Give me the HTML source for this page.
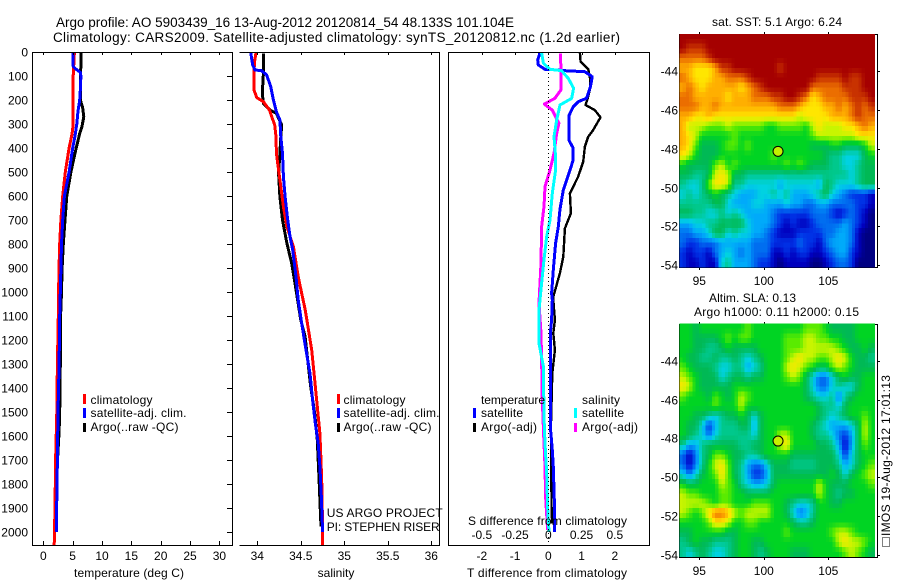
<!DOCTYPE html>
<html>
<head>
<meta charset="utf-8">
<title>Argo profile</title>
<style>
html,body{margin:0;padding:0;background:#fff;}
svg{display:block;}
text{font-family:"Liberation Sans",sans-serif;font-size:12px;fill:#000;}
.crisp{shape-rendering:crispEdges;}
.t13{font-size:13.5px;}
</style>
</head>
<body>
<svg id="fig" xmlns="http://www.w3.org/2000/svg" width="900" height="580" viewBox="0 0 900 580">
  <rect x="0" y="0" width="900" height="580" fill="#fff"/>
  <text class="t13" x="56" y="27" textLength="458">Argo profile: AO 5903439_16 13-Aug-2012 20120814_54 48.133S 101.104E</text>
  <text class="t13" x="53" y="42" textLength="567">Climatology: CARS2009. Satellite-adjusted climatology: synTS_20120812.nc (1.2d earlier)</text>

  <g id="marks"></g>
  <g id="axes" class="crisp"></g>
  <g id="labels"></g>
  <g id="maps"></g>

  <text x="74" y="577" textLength="110">temperature (deg C)</text>
  <text x="336" y="577" text-anchor="middle">salinity</text>
  <text x="467" y="577" textLength="160">T difference from climatology</text>
  <text x="468" y="525" textLength="159">S difference from climatology</text>

  <g>
    <rect class="crisp" x="83" y="394" width="3" height="10" fill="#f00"/>
    <text x="90.5" y="404" textLength="62">climatology</text>
    <rect class="crisp" x="83" y="408" width="3" height="10" fill="#00f"/>
    <text x="90.5" y="417" textLength="96">satellite-adj. clim.</text>
    <rect class="crisp" x="83" y="423" width="3" height="9" fill="#000"/>
    <text x="90.5" y="431" textLength="88">Argo(..raw -QC)</text>
  </g>
  <g>
    <rect class="crisp" x="337" y="394" width="3" height="10" fill="#f00"/>
    <text x="343.5" y="404" textLength="62">climatology</text>
    <rect class="crisp" x="337" y="408" width="3" height="10" fill="#00f"/>
    <text x="343.5" y="417" textLength="96">satellite-adj. clim.</text>
    <rect class="crisp" x="337" y="423" width="3" height="9" fill="#000"/>
    <text x="343.5" y="431" textLength="88">Argo(..raw -QC)</text>
    <text x="326.7" y="517" textLength="116">US ARGO PROJECT</text>
    <text x="326.7" y="531" textLength="113">PI: STEPHEN RISER</text>
  </g>
  <g>
    <text x="481" y="404" textLength="64">temperature</text>
    <text x="582" y="404" textLength="38">salinity</text>
    <rect class="crisp" x="473" y="408" width="3" height="10" fill="#00f"/>
    <text x="481" y="417" textLength="42">satellite</text>
    <rect class="crisp" x="473" y="423" width="3" height="9" fill="#000"/>
    <text x="481" y="431" textLength="56">Argo(-adj)</text>
    <rect class="crisp" x="574" y="408" width="3" height="10" fill="#0ff"/>
    <text x="582" y="417" textLength="42">satellite</text>
    <rect class="crisp" x="574" y="423" width="3" height="9" fill="#f0f"/>
    <text x="582" y="431" textLength="56">Argo(-adj)</text>
  </g>

  <text x="712" y="26" textLength="130">sat. SST: 5.1 Argo: 6.24</text>
  <text x="709" y="302" textLength="87">Altim. SLA: 0.13</text>
  <text x="694" y="316" textLength="165">Argo h1000: 0.11 h2000: 0.15</text>
  <rect x="882.5" y="537.5" width="7" height="9" fill="none" stroke="#000" stroke-dasharray="1 1" class="crisp"/>
  <text transform="translate(890,536) rotate(-90)" x="0" y="0" textLength="161">IMOS 19-Aug-2012 17:01:13</text>
</svg>
<script>
// ---------- depth ticks ----------
var depthTicks = [0,100,200,300,400,500,600,700,800,900,1000,1100,1200,1300,1400,1500,1600,1700,1800,1900,2000];
// ---------- temperature panel ----------
var tempTicks = [0,5,10,15,20,25,30];
var tempClimDepth = [0,100,220,300,340,400,500,600,700,800,900,1000,1100,1300,1500,1700,1900,2054];
var tempClim = [5.3,5.1,5.1,5.1,4.9,4.4,3.75,3.3,3.0,2.8,2.67,2.6,2.55,2.4,2.3,2.1,2.0,1.85];
var tempSatDepth = [0,60,70,85,100,160,200,250,300,350,400,500,600,700,800,900,1000,1100,1300,1500,1700,1850,2000];
var tempSat = [5.1,5.1,5.5,6.3,6.4,6.3,6.2,5.9,5.7,5.4,5.0,4.4,3.6,3.3,3.1,3.0,2.9,2.8,2.7,2.5,2.4,2.3,2.25];
var tempArgoDepth = [0,60,100,200,230,270,310,340,400,500,600,700,800,900,1000,1100,1300,1500,1580,1800,1900,2000];
var tempArgo = [6.4,6.4,6.3,6.3,6.7,6.9,6.6,6.2,5.6,4.7,4.0,3.7,3.4,3.2,3.1,2.95,2.9,2.8,2.7,2.2,2.1,2.1];
// ---------- salinity panel ----------
var salTicks = [34,34.5,35,35.5,36];
var salTickLabels = ["34","34.5","35","35.5","36"];
var salClimDepth = [3,47,158,190,207,242,269,304,353,422,464,533,589,644,728,811,936,1006,1072,1117,1242,1367,1478,1589,1728,1839,2054];
var salClim = [33.985,33.966,33.962,33.993,34.07,34.14,34.165,34.2,34.215,34.22,34.235,34.26,34.28,34.3,34.34,34.415,34.47,34.51,34.55,34.57,34.625,34.66,34.69,34.72,34.735,34.745,34.75];
var salSatDepth = [3,54,75,78,96,144,200,249,283,353,422,519,603,686,769,825,936,1033,1131,1242,1339,1450,1547,1631,1728,1839,1999];
var salSat = [33.924,33.947,33.974,34.05,34.108,34.154,34.185,34.22,34.26,34.27,34.29,34.3,34.32,34.345,34.376,34.407,34.445,34.47,34.51,34.56,34.606,34.636,34.667,34.7,34.72,34.735,34.75];
var salArgoDepth = [6,89,172,214,242,256,304,353,422,506,603,700,797,881,964,1117,1186,1269,1394,1506,1617,1783,1867,1978];
var salArgo = [34.07,34.07,34.058,34.07,34.146,34.22,34.28,34.27,34.26,34.245,34.26,34.29,34.34,34.395,34.433,34.5,34.55,34.575,34.614,34.66,34.69,34.71,34.72,34.732];
// ---------- difference panel ----------
var diffTTicks = [-2,-1,0,1,2];
var diffSTicks = [-0.5,-0.25,0,0.25,0.5];
var diffSTickLabels = ["-0.5","-0.25","0","0.25","0.5"];
var dtSatDepth = [3,33,54,72,75,78,82,103,144,193,207,228,263,339,367,401,450,506,575,658,728,797,908,1006,1033,1117,1172,1561,1658,1728,1867,1999];
var dtSat = [-0.25,-0.32,-0.3,-0.1,0.3,0.5,1.1,1.32,1.27,1.15,0.9,0.75,0.63,0.63,0.62,0.75,0.75,0.62,0.45,0.35,0.3,0.22,0.15,0.1,0.12,0.1,0.06,0.06,0.12,0.15,0.18,0.18];
var dtArgoDepth = [3,40,72,103,144,186,221,242,272,325,353,394,457,519,589,672,735,853,922,1019,1033,1117,1172,1242,1339,1450,1547,1922,1964];
var dtArgo = [0.95,0.97,1.2,1.25,1.27,1.2,1.12,1.4,1.57,1.35,1.2,1.1,1.05,0.9,0.65,0.68,0.5,0.45,0.35,0.15,0.15,0.2,0.15,0.2,0.12,0.1,0.08,0.1,0.12];
var dsSatDepth = [3,47,72,78,110,151,193,221,283,353,436,492,589,700,769,853,964,1075,1214,1311,1519,1631,1756,1894,1999];
var dsSat = [-0.05,-0.037,0.013,0.1,0.15,0.19,0.176,0.088,0.063,0.043,0.055,0.055,0.03,0.013,-0.012,-0.03,-0.05,-0.07,-0.07,-0.037,-0.032,-0.025,-0.012,-0.005,0.005];
var dsArgoDepth = [6,158,193,217,242,297,339,422,492,561,644,728,881,1019,1047,1172,1283,1450,1589,1728,1853,1992];
var dsArgo = [0.093,0.095,0.05,-0.03,0.03,0.08,0.063,0.043,0.013,-0.025,-0.032,-0.05,-0.055,-0.068,-0.07,-0.055,-0.05,-0.045,-0.035,-0.025,-0.02,-0.005];
// ---------- maps ----------
var lonTicks = [95,100,105];
var latTicks = [44,46,48,50,52,54];
var floatLon = 101.104;
var floatLat = 48.133;
var sstGrid = [
[15,15,15,15,15,15,15,15,15,15,15,15,15,15,15,15,15,15,15,15,15,15,15,15,15,15,15,15,15,15],
[15,14,14,14,15,15,15,15,15,15,15,15,15,15,15,15,15,15,15,15,15,15,15,15,15,15,15,15,15,15],
[13,13,13,13,14,15,15,15,15,15,15,15,15,15,15,15,15,15,15,15,15,15,15,15,15,15,15,15,15,15],
[12,12,11,11,11,12,14,14,15,15,15,15,15,15,15,14,15,15,15,15,15,15,15,15,15,15,15,15,15,15],
[13,12,11,11,11,12,12,13,13,13,14,15,15,15,15,15,15,15,15,15,15,14,14,14,14,15,14,14,15,15],
[12,13,12,11,12,12,12,12,12,11,12,13,14,15,15,15,15,15,15,15,13,13,13,13,13,14,14,14,15,15],
[13,13,12,12,12,12,12,11,12,12,12,13,13,13,14,14,15,15,14,13,11,12,13,13,13,13,14,14,14,15],
[13,13,13,12,12,13,12,12,12,12,12,12,12,12,12,13,13,13,12,11,11,11,12,12,13,12,13,14,13,14],
[12,12,11,11,12,11,11,11,11,11,11,11,11,11,11,11,11,11,10,11,11,11,11,12,12,12,13,14,13,13],
[12,10,10,10,9,9,9,10,9,9,9,9,9,8,8,9,9,9,9,8,10,11,10,10,10,11,11,12,13,12],
[12,11,10,8,8,8,8,8,9,8,8,8,8,8,8,8,8,8,8,8,9,10,10,10,10,10,10,11,11,11],
[12,11,9,7,7,7,8,9,9,8,9,8,8,8,8,8,8,8,8,8,7,7,7,8,8,7,7,7,8,10],
[11,10,8,7,7,7,8,8,8,8,8,8,8,8,9,8,8,8,8,8,8,8,7,6,6,5,5,5,7,8],
[8,7,7,7,7,9,10,8,9,8,8,8,8,8,8,8,9,8,9,8,7,7,7,6,6,5,5,6,7,7],
[7,7,6,6,7,10,11,10,7,7,6,6,6,6,6,6,6,6,6,6,6,6,6,6,6,6,5,6,7,7],
[6,5,5,6,9,11,11,10,6,6,5,5,5,5,5,4,5,5,5,5,5,4,7,6,5,5,5,6,7,7],
[5,6,5,6,7,8,7,6,5,4,4,4,5,5,6,5,6,4,4,4,5,6,7,5,4,3,2,2,2,1],
[6,6,6,6,6,7,7,5,4,4,4,5,5,4,4,4,5,4,4,3,3,4,4,3,3,3,3,2,2,1],
[7,7,6,6,5,5,6,5,6,5,4,4,4,4,3,2,2,2,2,2,3,3,3,2,1,2,3,2,1,0],
[4,4,5,5,6,6,7,7,7,7,5,4,4,4,3,2,1,2,1,1,2,3,3,3,3,4,3,2,1,0],
[3,3,4,4,5,7,7,5,6,5,5,4,4,3,2,1,1,1,2,2,2,2,3,3,4,4,3,1,0,0],
[3,2,2,3,3,3,4,4,4,4,4,3,3,3,2,2,2,2,3,2,2,1,3,4,4,4,3,1,0,0],
[2,1,2,2,1,3,4,5,4,3,4,3,3,3,1,1,2,1,2,2,1,1,2,3,4,4,2,1,0,0],
[2,1,1,2,1,1,5,6,4,4,4,3,2,2,1,0,1,1,1,1,0,0,1,2,3,3,2,0,0,0]
];
var slaGrid = [
[8,8,7,8,8,8,8,8,8,8,9,8,8,8,8,8,8,8,8,9,9,9,8,7,7,7,7,8,8,8],
[8,8,7,7,7,7,8,9,8,9,9,8,8,8,8,8,9,9,9,10,10,9,9,8,8,7,7,8,8,8],
[8,8,7,7,6,6,7,8,7,7,7,7,8,8,8,8,9,9,9,10,10,10,10,10,9,8,7,7,8,7],
[8,7,7,6,6,7,6,6,7,6,5,6,7,8,8,8,9,10,11,10,10,9,9,10,11,10,8,7,7,6],
[9,8,7,7,7,6,5,5,6,6,4,5,6,8,8,8,10,11,10,9,8,7,7,9,10,9,8,7,7,7],
[10,9,8,7,7,7,5,6,7,7,6,7,7,8,8,8,9,10,9,7,5,3,3,5,7,8,7,7,8,8],
[11,10,8,7,7,7,7,7,8,8,8,8,8,8,8,8,8,8,8,7,5,3,3,5,6,5,5,7,8,8],
[9,8,8,8,7,9,8,7,8,10,9,8,8,8,8,8,8,8,8,7,6,5,5,6,3,6,7,8,8,8],
[8,8,8,8,8,9,8,8,8,10,8,8,8,8,8,8,8,8,8,8,8,7,6,6,5,7,8,8,8,8],
[8,8,7,7,6,5,6,7,7,8,7,5,7,8,8,8,8,8,8,8,8,7,6,5,6,7,8,8,9,8],
[8,7,7,5,2,4,6,6,6,7,7,4,7,8,8,8,8,8,8,8,7,6,5,4,4,4,5,7,10,8],
[8,7,6,5,3,5,6,6,6,6,6,5,7,8,8,10,10,8,8,8,7,6,6,5,3,2,4,7,10,8],
[6,4,4,6,7,7,7,7,7,6,6,7,7,8,8,10,11,8,8,8,8,7,7,6,4,1,4,7,9,8],
[3,1,3,6,7,9,9,8,7,7,6,6,7,8,8,8,8,7,7,7,7,7,7,7,5,2,5,7,8,8],
[3,1,3,6,8,10,11,9,7,6,4,3,3,5,7,7,7,6,6,6,6,7,7,7,6,4,5,7,8,9],
[5,3,5,7,8,9,11,9,7,6,4,2,2,4,7,7,7,7,7,7,7,7,7,8,7,5,7,8,9,10],
[8,7,7,8,8,8,10,9,8,6,5,4,4,5,7,8,8,8,8,8,8,10,8,7,7,7,8,8,8,9],
[10,9,9,8,8,8,9,9,8,8,7,7,7,7,8,8,8,8,8,8,8,10,8,7,6,7,7,8,8,8],
[10,10,10,10,9,8,9,9,8,8,8,9,9,9,8,8,7,6,5,5,6,8,8,7,7,8,8,8,8,8],
[10,9,8,9,11,13,13,12,10,9,10,10,10,10,8,8,7,5,3,4,6,8,8,8,8,8,8,8,8,8],
[8,8,8,8,9,11,11,10,8,8,9,9,8,8,8,8,8,7,6,6,7,8,8,8,8,8,8,8,8,8],
[7,7,8,8,8,8,8,7,7,8,8,8,8,8,8,8,9,8,8,8,8,8,8,9,10,10,9,8,8,8],
[6,7,8,7,7,6,6,6,7,8,8,7,7,8,8,8,8,8,8,8,8,8,8,8,10,11,10,10,9,8],
[6,5,6,7,6,5,5,6,7,8,8,7,6,7,8,8,8,7,7,7,8,8,8,8,8,9,10,9,8,7]
];

var NS = "http://www.w3.org/2000/svg";
var colorStops = [[0,0,130],[0,0,190],[0,50,230],[0,110,240],[0,170,250],[0,210,225],[0,200,140],[0,185,85],[0,212,35],[90,235,0],[200,245,0],[255,230,0],[255,175,0],[235,110,0],[200,50,0],[165,0,0]];
function colorFor(v){
  var c = Math.max(0, Math.min(colorStops.length - 1.001, v));
  var i = Math.floor(c), f = c - i, a = colorStops[i], b = colorStops[i + 1];
  return "rgb(" + Math.round(a[0] + (b[0] - a[0]) * f) + "," + Math.round(a[1] + (b[1] - a[1]) * f) + "," + Math.round(a[2] + (b[2] - a[2]) * f) + ")";
}
function sampleGrid(grid, u, v){
  var rows = grid.length, cols = grid[0].length;
  var x = Math.max(0, Math.min(cols - 1, u)), y = Math.max(0, Math.min(rows - 1, v));
  var i = Math.min(cols - 2, Math.floor(x)), j = Math.min(rows - 2, Math.floor(y));
  var fx = x - i, fy = y - j;
  return grid[j][i] * (1 - fx) * (1 - fy) + grid[j][i + 1] * fx * (1 - fy) + grid[j + 1][i] * (1 - fx) * fy + grid[j + 1][i + 1] * fx * fy;
}
function mk(tag, parent, attrs){
  var el = document.createElementNS(NS, tag);
  for (var k in attrs) el.setAttribute(k, attrs[k]);
  parent.appendChild(el);
  return el;
}
var depthY = function(d){ return 52 + 0.24 * d; };
var tempX = function(t){ return 43.3 + 5.87 * t; };
var salX = function(s){ return 257.3 + 87 * (s - 34); };
var dtX = function(t){ return 548.3 + 33.25 * t; };
var dsX = function(s){ return 548.3 + 133 * s; };

var marks = document.getElementById("marks");
var axes = document.getElementById("axes");
var labels = document.getElementById("labels");

function hLine(x1, x2, y){
  var l = mk("line", axes, {x1:x1, x2:x2, y1:y, y2:y, stroke:"#000", "stroke-width":1});
  
  
}
function vLine(x, y1, y2){
  var l = mk("line", axes, {x1:x, x2:x, y1:y1, y2:y2, stroke:"#000", "stroke-width":1});
  
  
}
function tickLabel(txt, x, y, anchor){
  var t = mk("text", labels, {x:x, y:y, "text-anchor":anchor});
  t.textContent = txt;
  
  
}
function curve(depths, vals, xf, color, width, name){
  var pts = depths.map(function(d, i){ return xf(vals[i]).toFixed(1) + "," + depthY(d).toFixed(1); }).join(" ");
  var p = mk("polyline", marks, {points:pts, fill:"none", stroke:color, "stroke-width":width, "stroke-linejoin":"round", "shape-rendering":"crispEdges"});
  
  
}

// series
curve(tempArgoDepth, tempArgo, tempX, "#000", 3, "temperature-argo-line");
curve(tempClimDepth, tempClim, tempX, "#f00", 3, "temperature-climatology-line");
curve(tempSatDepth, tempSat, tempX, "#00f", 3, "temperature-satellite-line");
curve(salArgoDepth, salArgo, salX, "#000", 3, "salinity-argo-line");
curve(salClimDepth, salClim, salX, "#f00", 3, "salinity-climatology-line");
curve(salSatDepth, salSat, salX, "#00f", 3, "salinity-satellite-line");
curve(dtArgoDepth, dtArgo, dtX, "#000", 2.4, "t-difference-argo-line");
curve(dtSatDepth, dtSat, dtX, "#00f", 3, "t-difference-satellite-line");
curve(dsArgoDepth, dsArgo, dsX, "#f0f", 3, "s-difference-argo-line");
curve(dsSatDepth, dsSat, dsX, "#0ff", 3, "s-difference-satellite-line");

// frames
hLine(32.5, 232.5, 52.5); hLine(32.5, 232.5, 545.5); vLine(32.5, 52, 546); vLine(232.5, 52, 546);
hLine(239.5, 439.5, 52.5); hLine(239.5, 439.5, 545.5); vLine(439.5, 52, 546);
hLine(448.5, 649.5, 52.5); hLine(448.5, 649.5, 545.5); vLine(448.5, 52, 546); vLine(649.5, 52, 546);

// zero line
var zero = mk("line", marks, {x1:dtX(0), x2:dtX(0), y1:53, y2:545, stroke:"#000", "stroke-width":1, "stroke-dasharray":"1 3", "shape-rendering":"crispEdges"});



// depth ticks
depthTicks.forEach(function(d){
  var y = Math.round(depthY(d)) + 0.5;
  hLine(227, 232, y);
  tickLabel(String(d), 28, y + 4, "end");
});
// temperature x ticks
tempTicks.forEach(function(t){
  var x = Math.round(tempX(t)) + 0.5;
  vLine(x, 52, 55); vLine(x, 541, 545);
  tickLabel(String(t), tempX(t), 560, "middle");
});
// salinity x ticks
salTicks.forEach(function(s, i){
  var x = Math.round(salX(s)) + 0.5;
  vLine(x, 52, 55); vLine(x, 541, 545);
  tickLabel(salTickLabels[i], salX(s), 560, "middle");
});
// difference ticks
diffTTicks.forEach(function(t){
  var x = Math.round(dtX(t)) + 0.5;
  vLine(x, 52, 55);
  tickLabel(String(t), dtX(t), 560, "middle");
});
diffSTicks.forEach(function(s, i){
  tickLabel(diffSTickLabels[i], dsX(s), 539, "middle");
});

// maps: each grid value is shaded on quarter-degree cells like the reference
var cellsPerValue = 2;
function drawMap(grid, top, name, y44, dotFill){
  var maps = document.getElementById("maps");
  var g = mk("g", maps, {"shape-rendering":"crispEdges"});
  
  
  var lonX = function(lon){ return 699.3 + 12.9 * (lon - 95); };
  var latY = function(lat){ return y44 + 19.37 * (lat - 44); };
  var lon0 = 93.45, dLon = 0.505 / cellsPerValue, lat0 = 42.07, dLat = 0.5013 / cellsPerValue;
  var nRows = grid.length * cellsPerValue, nCols = grid[0].length * cellsPerValue;
  for (var j = 0; j < nRows; j++){
    for (var i = 0; i < nCols; i++){
      var v = sampleGrid(grid, (i + 0.5) / cellsPerValue - 0.5, (j + 0.5) / cellsPerValue - 0.5);
      var x0 = lonX(lon0 + i * dLon), x1 = lonX(lon0 + (i + 1) * dLon);
      var y0 = latY(lat0 + j * dLat), y1 = latY(lat0 + (j + 1) * dLat);
      var c = mk("rect", g, {x:x0.toFixed(2), y:y0.toFixed(2), width:(x1 - x0 + 0.3).toFixed(2), height:(y1 - y0 + 0.3).toFixed(2), fill:colorFor(v)});
      
      
    }
  }
  var bottom = top + 233;
  hLine(679, 878, top + 0.5);
  hLine(679, 878, bottom + 0.5);
  vLine(679.5, top, bottom + 1);
  vLine(877.5, top, bottom + 1);
  lonTicks.forEach(function(lon){
    var x = Math.round(lonX(lon)) + 0.5;
    vLine(x, top - 2, top);
    vLine(x, bottom + 1, bottom + 3);
    tickLabel(String(lon), lonX(lon), bottom + 18, "middle");
  });
  latTicks.forEach(function(lat){
    var y = Math.round(latY(lat)) + 0.5;
    hLine(877, 880, y);
    tickLabel("-" + lat, 678, y + 4, "end");
  });
  var dot = mk("circle", maps, {cx:lonX(floatLon), cy:latY(floatLat), r:5, fill:dotFill, stroke:"#000", "stroke-width":1});
  
  
}
drawMap(sstGrid, 34, "sst-heatmap", 71.3, "#c4f000");
drawMap(slaGrid, 324, "sla-heatmap", 361, "#c8f000");
</script>
</body>
</html>
